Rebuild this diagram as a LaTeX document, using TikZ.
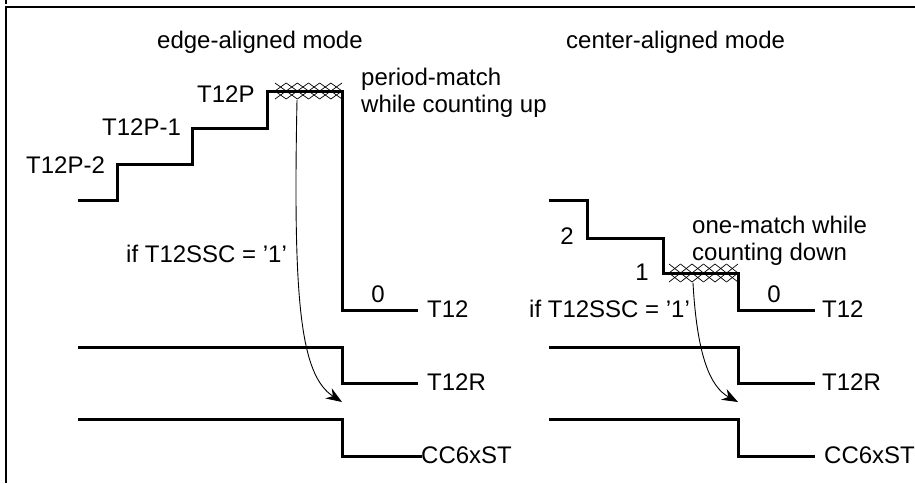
\documentclass[tikz,border=0pt]{standalone}
\usepackage{fontspec}
\setmainfont{Liberation Sans}
\usetikzlibrary{arrows.meta}
\begin{document}
\begin{tikzpicture}[x=1pt,y=-1pt,
  sig/.style={line width=3pt, line join=miter},
  framel/.style={line width=2pt},
  lbl/.style={inner sep=0pt, anchor=base west, font=\fontsize{24}{28}\selectfont},
  lblc/.style={inner sep=0pt, anchor=base, font=\fontsize{24}{28}\selectfont},
  hatchl/.style={line width=0.7pt},
  trig/.style={line width=0.9pt, -{Stealth[length=16pt,width=12pt]}}]
\useasboundingbox (0,0) rectangle (915,483);
% frame
\draw[framel] (6,0) -- (6,4);
\draw[framel] (6,483) -- (6,7) -- (915,7);
% titles
\node[lbl] (tl) at (157,48) {edge-aligned mode};
\node[lbl] (tr) at (566,48) {center-aligned mode};
% ---------- edge-aligned ----------
\draw[sig] (78,200) -- (117,200) -- (117,164) -- (192,164) -- (192,128) -- (267,128) -- (267,91) -- (342,91) -- (342,310) -- (418,310);
\draw[sig] (78,347) -- (342,347) -- (342,383) -- (418,383);
\draw[sig] (78,419) -- (342,419) -- (342,456) -- (422,456);
\foreach \i in {0,...,5}{
  \draw[hatchl] ({275+11.17*\i},83) -- ({275+11.17*(\i+1)},91);
  \draw[hatchl] ({275+11.17*\i},91) -- ({275+11.17*(\i+1)},83);
  \draw[hatchl] ({275+11.17*\i},91) -- ({275+11.17*(\i+1)},99);
  \draw[hatchl] ({275+11.17*\i},99) -- ({275+11.17*(\i+1)},91);
}
\node[lbl] (p2) at (26,173) {T12P-2};
\node[lbl] (p1) at (102,135) {T12P-1};
\node[lbl] (p0) at (197,102) {T12P};
\node[lbl] (pm1) at (361,85) {period-match};
\node[lbl] (pm2) at (361,112) {while counting up};
\node[lbl] (ifl) at (126,262) {if T12SSC = \char"2019 1\char"2019};
\node[lblc] (z0l) at (378,302) {0};
\node[lbl] (t12l) at (427,317) {T12};
\node[lbl] (t12rl) at (427,390) {T12R};
\node[lbl] (ccl) at (421,463) {CC6xST};
\coordinate (als) at (297,100);
\coordinate (ale) at (342,402);
\draw[trig] (als) .. controls (293,300) and (300,375) .. (ale);
% ---------- center-aligned ----------
\draw[sig] (549,200) -- (587,200) -- (587,238) -- (663,238) -- (663,273) -- (738,273) -- (738,310) -- (815,310);
\draw[sig] (549,347) -- (738,347) -- (738,383) -- (815,383);
\draw[sig] (549,419) -- (738,419) -- (738,456) -- (815,456);
\foreach \i in {0,...,5}{
  \draw[hatchl] ({669+11.5*\i},264) -- ({669+11.5*(\i+1)},273);
  \draw[hatchl] ({669+11.5*\i},273) -- ({669+11.5*(\i+1)},264);
  \draw[hatchl] ({669+11.5*\i},273) -- ({669+11.5*(\i+1)},282);
  \draw[hatchl] ({669+11.5*\i},282) -- ({669+11.5*(\i+1)},273);
}
\node[lblc] (n2) at (567,244) {2};
\node[lblc] (n1) at (642,280) {1};
\node[lblc] (z0r) at (774,302) {0};
\node[lbl] (om1) at (692,233) {one-match while};
\node[lbl] (om2) at (692,260) {counting down};
\node[lbl] (ifr) at (529,317) {if T12SSC = \char"2019 1\char"2019};
\node[lbl] (t12r) at (822,317) {T12};
\node[lbl] (t12rr) at (822,390) {T12R};
\node[lbl] (ccr) at (824,463) {CC6xST};
\coordinate (ars) at (693,283);
\coordinate (are) at (738,402);
\draw[trig] (ars) .. controls (697,355) and (710,387) .. (are);
\end{tikzpicture}
\end{document}
